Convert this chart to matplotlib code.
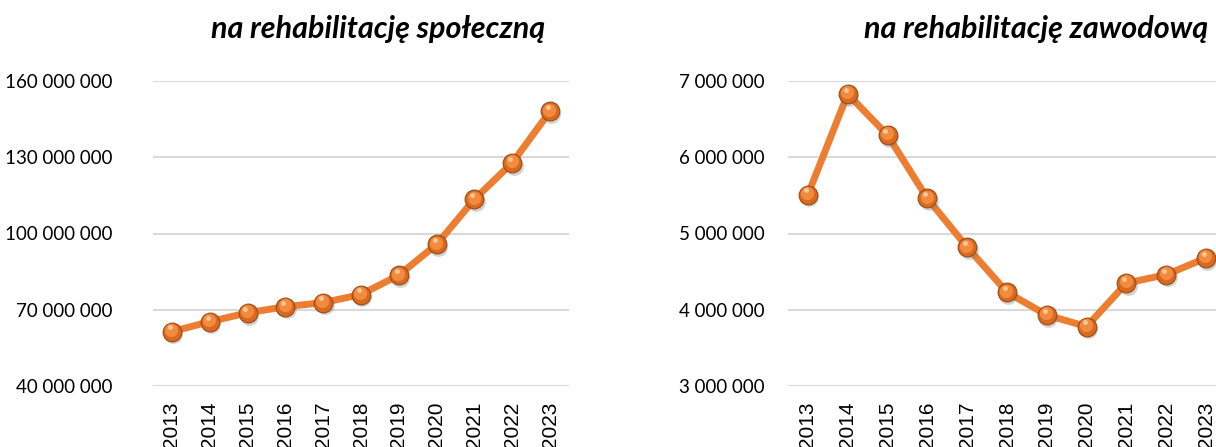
import matplotlib
matplotlib.use("Agg")
import matplotlib.pyplot as plt
from matplotlib.transforms import offset_copy
from matplotlib.ticker import FuncFormatter

years = ["2013", "2014", "2015", "2016", "2017", "2018",
         "2019", "2020", "2021", "2022", "2023"]
spoleczna = [61.4e6, 65.3e6, 68.8e6, 71.2e6, 72.8e6, 76.0e6,
             83.6e6, 95.7e6, 113.5e6, 127.8e6, 148.1e6]
zawodowa = [5.51e6, 6.83e6, 6.29e6, 5.46e6, 4.82e6, 4.23e6,
            3.93e6, 3.78e6, 4.35e6, 4.46e6, 4.68e6]
ticks_spol = [40e6, 70e6, 100e6, 130e6, 160e6]
ticks_zaw = [3e6, 4e6, 5e6, 6e6, 7e6]
title_spol = "na rehabilitację społeczną"
title_zaw = "na rehabilitację zawodową"

ORANGE = "#ED7D31"
W, H = 1216, 447

fig = plt.figure(figsize=(W / 100, H / 100), dpi=100)


def spaced(v, pos):
    return f"{int(round(v)):,}".replace(",", " ")


def draw(ax, values, yticks, ypad):
    x = list(range(len(values)))
    ax.plot(x, values, color=ORANGE, lw=5, solid_capstyle="round", zorder=3)
    # shadow, ball, highlight to mimic the shaded spheres
    sh = offset_copy(ax.transData, fig=fig, x=1.0, y=-2.0, units="points")
    ax.plot(x, values, "o", ms=13.5, color="#7f7f7f", alpha=0.35, mec="none",
            transform=sh, zorder=4)
    ax.plot(x, values, "o", ms=13.5, color="#D9691F", mec="#9A4A14", mew=0.8, zorder=5)
    hi = offset_copy(ax.transData, fig=fig, x=-0.5, y=1.2, units="points")
    ax.plot(x, values, "o", ms=9.5, color="#F28B3D", mec="none", transform=hi, zorder=6)
    hi2 = offset_copy(ax.transData, fig=fig, x=-1.5, y=3.0, units="points")
    ax.plot(x, values, "o", ms=3.5, color="#FCC79A", mec="none", transform=hi2, zorder=7)

    ax.set_xlim(-0.5, len(values) - 0.5)
    ax.set_ylim(yticks[0], yticks[-1])
    ax.set_yticks(yticks)
    ax.yaxis.set_major_formatter(FuncFormatter(spaced))
    ax.set_xticks(x)
    ax.set_xticklabels(years, rotation=90, fontsize=15, family="Liberation Sans")
    ax.grid(axis="y", color="#D9D9D9", lw=1.5)
    ax.set_axisbelow(True)
    for s in ax.spines.values():
        s.set_visible(False)
    ax.tick_params(axis="both", length=0)
    ax.tick_params(axis="x", pad=11)
    ax.tick_params(axis="y", pad=ypad, labelsize=13.5)
    for lab in ax.get_yticklabels():
        lab.set_family(["Lato", "DejaVu Sans"])
    ax.patch.set_alpha(0)


bottom = (H - 386) / H
height = (386 - 81) / H
ax1 = fig.add_axes([153 / W, bottom, 416 / W, height])
draw(ax1, spoleczna, ticks_spol, 29)
ax2 = fig.add_axes([788 / W, bottom, 438 / W, height])
draw(ax2, zawodowa, ticks_zaw, 17)

fig.text(378 / W, 1 - 29 / H, title_spol, ha="center", va="center", fontsize=22,
         fontweight="bold", fontstyle="italic", family=["Lato", "DejaVu Sans"])
fig.text(1036 / W, 1 - 29 / H, title_zaw, ha="center", va="center", fontsize=22,
         fontweight="bold", fontstyle="italic", family=["Lato", "DejaVu Sans"])

fig.savefig("out.png", dpi=100)
